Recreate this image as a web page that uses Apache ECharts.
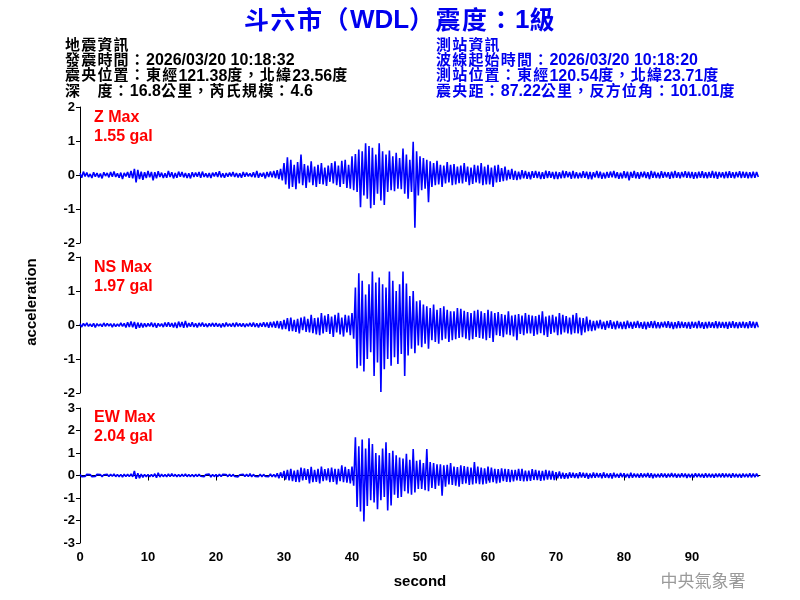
<!DOCTYPE html>
<html><head><meta charset="utf-8">
<script src="https://cdn.jsdelivr.net/npm/echarts@6/dist/echarts.min.js"></script>
<style>html,body{margin:0;padding:0;background:#fff}#c{width:800px;height:600px}</style>
</head><body><div id="c"></div>
<script>
// ---- data ----
const DT = 0.25; // sampling step in seconds
const titleText = '斗六市（WDL）震度：1級';
const leftInfo = ['地震資訊','發震時間：2026/03/20 10:18:32','震央位置：東經121.38度，北緯23.56度','深　度：16.8公里，芮氏規模：4.6'];
const rightInfo = ['測站資訊','波線起始時間：2026/03/20 10:18:20','測站位置：東經120.54度，北緯23.71度','震央距：87.22公里，反方位角：101.01度'];
const channelNames = ['Z Max','NS Max','EW Max'];
const channelPeaks = ['1.55 gal','1.97 gal','2.04 gal'];
const yRanges = [[-2,2],[-2,2],[-3,3]];
const xTicks = [0,10,20,30,40,50,60,70,80,90];

const zValues = [
0.05,-0.08,0.10,-0.04, 0.07,-0.06,0.03,-0.09, 0.08,-0.05,0.06,-0.07, 0.04,-0.10,0.08,-0.03, 0.06,-0.07,0.09,-0.05, 0.10,-0.06,0.05,-0.08, 0.07,-0.12,0.06,-0.04, 0.09,-0.08,0.12,-0.10, 0.18,-0.22,0.15,-0.12, 0.10,-0.14,0.08,-0.09,
0.12,-0.07,0.09,-0.16, 0.08,-0.10,0.11,-0.06, 0.07,-0.09,0.05,-0.08, 0.12,-0.06,0.08,-0.10, 0.06,-0.08,0.10,-0.05, 0.09,-0.07,0.06,-0.09, 0.05,-0.10,0.08,-0.06, 0.07,-0.05,0.09,-0.08, 0.10,-0.06,0.05,-0.07, 0.06,-0.09,0.07,-0.04,
0.08,-0.06,0.11,-0.07, 0.05,-0.08,0.06,-0.05, 0.07,-0.04,0.09,-0.06, 0.06,-0.07,0.05,-0.08, 0.09,-0.05,0.07,-0.04, 0.05,-0.06,0.08,-0.07, 0.12,-0.08,0.06,-0.05, 0.07,-0.10,0.09,-0.06, 0.10,-0.07,0.12,-0.09, 0.14,-0.12,0.18,-0.16,
0.35,-0.28,0.52,-0.40, 0.45,-0.35,0.30,-0.42, 0.38,-0.25,0.60,-0.30, 0.32,-0.38,0.28,-0.22, 0.40,-0.30,0.25,-0.35, 0.30,-0.26,0.35,-0.28, 0.22,-0.32,0.28,-0.20, 0.35,-0.25,0.40,-0.30, 0.28,-0.35,0.42,-0.26, 0.45,-0.38,0.30,-0.40,
0.55,-0.45,0.62,-0.50, 0.75,-0.95,0.70,-0.60, 0.93,-0.70,0.85,-0.98, 0.80,-0.88,0.60,-0.55, 0.93,-0.75,0.70,-0.88, 0.60,-0.50,0.72,-0.45, 0.55,-0.48,0.65,-0.40, 0.50,-0.42,0.78,-0.55, 0.60,-0.70,0.45,-0.50, 0.98,-1.55,0.70,-0.60,
0.55,-0.45,0.50,-0.40, 0.45,-0.80,0.40,-0.35, 0.35,-0.30,0.42,-0.28, 0.30,-0.35,0.28,-0.25, 0.38,-0.22,0.30,-0.30, 0.32,-0.28,0.25,-0.24, 0.28,-0.25,0.35,-0.20, 0.25,-0.30,0.22,-0.26, 0.30,-0.22,0.28,-0.25, 0.35,-0.30,0.25,-0.28,
0.30,-0.28,0.22,-0.35, 0.28,-0.22,0.30,-0.20, 0.20,-0.18,0.25,-0.16, 0.15,-0.12,0.18,-0.14, 0.12,-0.15,0.10,-0.13, 0.14,-0.10,0.12,-0.11, 0.09,-0.13,0.11,-0.08, 0.12,-0.09,0.10,-0.12, 0.08,-0.11,0.13,-0.09, 0.11,-0.08,0.09,-0.12,
0.10,-0.12,0.08,-0.10, 0.13,-0.09,0.11,-0.07, 0.09,-0.11,0.12,-0.10, 0.08,-0.10,0.07,-0.09, 0.11,-0.08,0.10,-0.12, 0.09,-0.13,0.08,-0.07, 0.12,-0.09,0.10,-0.11, 0.07,-0.10,0.09,-0.08, 0.10,-0.07,0.12,-0.09, 0.08,-0.11,0.07,-0.10,
0.11,-0.09,0.10,-0.16, 0.09,-0.08,0.12,-0.10, 0.08,-0.11,0.09,-0.07, 0.10,-0.09,0.08,-0.12, 0.12,-0.08,0.10,-0.09, 0.07,-0.10,0.11,-0.08, 0.09,-0.07,0.08,-0.11, 0.10,-0.09,0.12,-0.08, 0.08,-0.10,0.09,-0.07, 0.11,-0.08,0.10,-0.09,
0.09,-0.11,0.08,-0.10, 0.10,-0.08,0.11,-0.09, 0.08,-0.10,0.09,-0.08, 0.12,-0.09,0.10,-0.11, 0.09,-0.07,0.08,-0.10, 0.10,-0.09,0.11,-0.08, 0.08,-0.10,0.09,-0.07, 0.11,-0.09,0.10,-0.08, 0.09,-0.10,0.08,-0.09, 0.10,-0.08,0.09,-0.06
];

const nsValues = [
0.04,-0.06,0.05,-0.03, 0.06,-0.04,0.03,-0.05, 0.05,-0.07,0.04,-0.03, 0.03,-0.05,0.06,-0.04, 0.05,-0.03,0.04,-0.06, 0.04,-0.05,0.03,-0.04, 0.06,-0.04,0.05,-0.07, 0.08,-0.06,0.10,-0.07, 0.09,-0.11,0.07,-0.08, 0.06,-0.07,0.05,-0.06,
0.05,-0.04,0.07,-0.06, 0.06,-0.08,0.05,-0.04, 0.04,-0.06,0.07,-0.05, 0.08,-0.05,0.06,-0.07, 0.07,-0.09,0.10,-0.06, 0.09,-0.08,0.12,-0.07, 0.06,-0.05,0.08,-0.06, 0.05,-0.07,0.06,-0.04, 0.07,-0.05,0.04,-0.06, 0.05,-0.04,0.06,-0.05,
0.06,-0.05,0.04,-0.07, 0.05,-0.06,0.07,-0.04, 0.04,-0.05,0.06,-0.06, 0.07,-0.04,0.05,-0.05, 0.05,-0.06,0.04,-0.04, 0.06,-0.05,0.07,-0.06, 0.05,-0.07,0.06,-0.05, 0.08,-0.06,0.07,-0.08, 0.09,-0.07,0.10,-0.08, 0.12,-0.10,0.11,-0.13,
0.15,-0.12,0.20,-0.18, 0.22,-0.18,0.15,-0.20, 0.18,-0.25,0.22,-0.15, 0.25,-0.20,0.18,-0.22, 0.30,-0.24,0.20,-0.28, 0.22,-0.30,0.35,-0.25, 0.28,-0.20,0.32,-0.26, 0.25,-0.35,0.30,-0.22, 0.36,-0.28,0.22,-0.34, 0.30,-0.22,0.28,-0.30,
0.35,-0.40,1.10,-1.27, 1.52,-1.20,1.30,-1.37, 0.90,-1.00,1.20,-0.80, 1.57,-1.50,1.25,-1.10, 1.40,-1.97,1.20,-1.30, 1.10,-1.00,1.57,-1.20, 1.30,-0.95,1.00,-1.15, 1.20,-0.85,1.57,-1.50, 1.22,-0.90,0.85,-0.70, 1.00,-0.83,0.70,-0.60,
0.73,-0.65,0.60,-0.55, 0.55,-0.70,0.50,-0.45, 0.60,-0.50,0.45,-0.55, 0.50,-0.45,0.55,-0.40, 0.45,-0.50,0.40,-0.45, 0.40,-0.42,0.50,-0.38, 0.48,-0.36,0.42,-0.40, 0.38,-0.45,0.35,-0.42, 0.42,-0.35,0.45,-0.38, 0.40,-0.40,0.35,-0.45,
0.45,-0.38,0.40,-0.50, 0.35,-0.30,0.38,-0.32, 0.32,-0.36,0.30,-0.28, 0.40,-0.30,0.28,-0.34, 0.30,-0.45,0.32,-0.26, 0.28,-0.30,0.35,-0.25, 0.30,-0.25,0.28,-0.32, 0.26,-0.28,0.30,-0.24, 0.40,-0.30,0.25,-0.35, 0.28,-0.26,0.30,-0.22,
0.25,-0.30,0.35,-0.28, 0.30,-0.22,0.26,-0.25, 0.22,-0.28,0.30,-0.24, 0.35,-0.25,0.22,-0.30, 0.20,-0.22,0.25,-0.18, 0.15,-0.18,0.12,-0.16, 0.13,-0.10,0.15,-0.12, 0.10,-0.14,0.12,-0.09, 0.14,-0.11,0.10,-0.13, 0.12,-0.10,0.09,-0.12,
0.10,-0.12,0.13,-0.09, 0.09,-0.11,0.10,-0.08, 0.12,-0.09,0.08,-0.11, 0.10,-0.13,0.09,-0.08, 0.11,-0.09,0.12,-0.10, 0.08,-0.10,0.09,-0.07, 0.10,-0.08,0.11,-0.09, 0.09,-0.12,0.08,-0.10, 0.11,-0.09,0.10,-0.08, 0.08,-0.10,0.09,-0.11,
0.10,-0.08,0.09,-0.10, 0.12,-0.09,0.08,-0.11, 0.09,-0.10,0.10,-0.08, 0.08,-0.09,0.11,-0.10, 0.10,-0.08,0.09,-0.09, 0.09,-0.11,0.10,-0.08, 0.11,-0.09,0.08,-0.10, 0.09,-0.08,0.10,-0.09, 0.08,-0.10,0.11,-0.08, 0.10,-0.09,0.09,-0.07
];

const ewValues = [
0.04,-0.05,0.03,-0.04, 0.05,-0.03,0.04,-0.05, 0.03,-0.04,0.05,-0.03, 0.04,-0.06,0.03,-0.04, 0.05,-0.04,0.06,-0.03, 0.07,-0.05,0.04,-0.06, 0.05,-0.07,0.06,-0.04, 0.06,-0.05,0.07,-0.06, 0.20,-0.15,0.10,-0.12, 0.06,-0.08,0.05,-0.06,
0.05,-0.06,0.04,-0.05, 0.08,-0.10,0.12,-0.07, 0.06,-0.05,0.04,-0.06, 0.07,-0.05,0.08,-0.04, 0.05,-0.06,0.04,-0.05, 0.06,-0.04,0.07,-0.05, 0.04,-0.05,0.05,-0.06, 0.05,-0.04,0.06,-0.03, 0.03,-0.05,0.04,-0.04, 0.06,-0.07,0.05,-0.05,
0.04,-0.05,0.06,-0.04, 0.05,-0.03,0.04,-0.05, 0.06,-0.05,0.05,-0.04, 0.04,-0.06,0.03,-0.05, 0.05,-0.04,0.06,-0.05, 0.08,-0.06,0.05,-0.04, 0.04,-0.05,0.06,-0.06, 0.05,-0.04,0.04,-0.05, 0.07,-0.06,0.05,-0.07, 0.10,-0.12,0.14,-0.10,
0.20,-0.18,0.25,-0.22, 0.30,-0.25,0.22,-0.28, 0.25,-0.30,0.35,-0.22, 0.32,-0.20,0.28,-0.35, 0.38,-0.30,0.25,-0.28, 0.30,-0.35,0.40,-0.25, 0.28,-0.22,0.32,-0.30, 0.35,-0.28,0.30,-0.40, 0.30,-0.25,0.45,-0.30, 0.38,-0.32,0.28,-0.35,
0.40,-0.45,1.70,-1.40, 1.30,-1.60,1.60,-2.04, 1.20,-1.35,1.65,-1.10, 1.40,-1.20,1.00,-1.50, 0.90,-1.10,1.20,-0.95, 1.48,-1.55,1.00,-1.33, 1.10,-0.85,0.90,-1.00, 0.80,-0.95,0.75,-0.70, 0.96,-0.80,0.70,-0.85, 1.18,-0.75,0.65,-0.60,
0.70,-0.60,0.55,-0.65, 1.18,-0.70,0.60,-0.55, 0.55,-0.60,0.50,-0.45, 0.50,-0.90,0.45,-0.50, 0.48,-0.40,0.55,-0.42, 0.40,-0.45,0.38,-0.50, 0.45,-0.38,0.42,-0.35, 0.38,-0.42,0.35,-0.40, 0.60,-0.35,0.40,-0.38, 0.35,-0.40,0.32,-0.36,
0.40,-0.32,0.35,-0.30, 0.30,-0.35,0.28,-0.32, 0.32,-0.25,0.30,-0.28, 0.28,-0.30,0.25,-0.26, 0.25,-0.22,0.30,-0.24, 0.30,-0.26,0.22,-0.25, 0.22,-0.24,0.28,-0.20, 0.25,-0.20,0.22,-0.24, 0.20,-0.22,0.25,-0.18, 0.22,-0.18,0.20,-0.20,
0.15,-0.12,0.18,-0.14, 0.12,-0.15,0.10,-0.13, 0.14,-0.10,0.12,-0.11, 0.10,-0.12,0.15,-0.09, 0.12,-0.10,0.11,-0.14, 0.09,-0.11,0.13,-0.10, 0.11,-0.09,0.10,-0.12, 0.14,-0.10,0.09,-0.11, 0.10,-0.13,0.12,-0.09, 0.08,-0.10,0.11,-0.08,
0.10,-0.09,0.08,-0.11, 0.12,-0.10,0.09,-0.08, 0.08,-0.10,0.10,-0.09, 0.09,-0.07,0.11,-0.10, 0.10,-0.12,0.08,-0.09, 0.07,-0.09,0.10,-0.08, 0.09,-0.10,0.08,-0.07, 0.11,-0.08,0.09,-0.10, 0.08,-0.09,0.10,-0.08, 0.09,-0.11,0.07,-0.09,
0.08,-0.09,0.10,-0.07, 0.09,-0.08,0.07,-0.10, 0.10,-0.09,0.08,-0.08, 0.07,-0.10,0.09,-0.07, 0.08,-0.08,0.10,-0.09, 0.09,-0.07,0.08,-0.10, 0.10,-0.08,0.07,-0.09, 0.08,-0.10,0.09,-0.07, 0.07,-0.08,0.10,-0.09, 0.09,-0.07,0.08,-0.06
];
// ---- chart ----
const traces = [zValues, nsValues, ewValues];
const LAT = '"Liberation Sans", Arial, sans-serif';
const CJK = '"Noto Sans CJK TC", sans-serif';
// wrap latin runs and each CJK character in rich-text tokens (for spacing / alignment)
function richify(s){
  return s.replace(/([\x00-\x7F]+)/g, '{l|$1}').replace(/([^\x00-\x7F])/g, '{c|$1}');
}
function richStyles(color, latSize, cjkSize, pad, lh, latDrop){
  return {
    l:{fontFamily:LAT, fontWeight:'bold', fontSize:latSize, fill:color, verticalAlign:'middle', lineHeight:lh, padding:[latDrop,0,0,0]},
    c:{fontFamily:CJK, fontWeight:'bold', fontSize:cjkSize, fill:color, verticalAlign:'middle', lineHeight:lh, padding:[0,pad,0,0]}
  };
}

const grids = [
  {left:80, right:40, top:107, height:136},
  {left:80, right:40, top:257, height:136},
  {left:80, right:40, top:408, height:135}
];
const xAxes = grids.map((g,i)=>({
  type:'value', gridIndex:i, min:0, max:100, interval:10, show: i===2,
  axisLine:{show:true, lineStyle:{color:'#000', width:1}},
  axisTick:{show:true, length:5, lineStyle:{color:'#000'}},
  axisLabel:{show:true, showMaxLabel:false, color:'#000', fontFamily:LAT, fontWeight:'bold', fontSize:13, margin:8,
    formatter:v=> xTicks.indexOf(v)>=0 ? String(v) : ''},
  splitLine:{show:false},
  name: i===2 ? 'second' : '', nameLocation:'middle', nameGap:31,
  nameTextStyle:{color:'#000', fontFamily:LAT, fontWeight:'bold', fontSize:15}
}));
const yAxes = grids.map((g,i)=>({
  type:'value', gridIndex:i, min:yRanges[i][0], max:yRanges[i][1], interval:1,
  axisLine:{show:true, lineStyle:{color:'#000', width:1}},
  axisTick:{show:true, length:4, lineStyle:{color:'#000'}},
  axisLabel:{color:'#000', fontFamily:LAT, fontWeight:'bold', fontSize:13, margin:5},
  splitLine:{show:false}
}));
const series = traces.map((vals,i)=>({
  type:'line', xAxisIndex:i, yAxisIndex:i, showSymbol:false, symbol:'none',
  lineStyle:{color:'#0000ff', width:1.6}, itemStyle:{color:'#0000ff'},
  data: vals.map((v,k)=>[k*DT, v]), animation:false, silent:true
}));

const graphics = [];
graphics.push({type:'text', x:400, y:19, style:{text:richify(titleText), align:'center', verticalAlign:'middle',
  fill:'#0000ee', fontFamily:LAT, fontWeight:'bold', fontSize:26,
  rich:richStyles('#0000ee', 26, 25, 1.5, 30, 3)}});
const infoY = [44, 59.3, 74.6, 90];
leftInfo.forEach((t,i)=>graphics.push({type:'text', x:65, y:infoY[i], style:{text:richify(t), align:'left', verticalAlign:'middle',
  fill:'#000', fontFamily:LAT, fontWeight:'bold', fontSize:16, rich:richStyles('#000', 16, 15, 1.2, 16, 3)}}));
rightInfo.forEach((t,i)=>graphics.push({type:'text', x:436, y:infoY[i], style:{text:richify(t), align:'left', verticalAlign:'middle',
  fill:'#0000ee', fontFamily:LAT, fontWeight:'bold', fontSize:16, rich:richStyles('#0000ee', 16, 15, 1.2, 16, 3)}}));
const labY = [[117.5,136.7],[268,287],[417.5,436.7]];
channelNames.forEach((n,i)=>{
  graphics.push({type:'text', x:94, y:labY[i][0], style:{text:n, verticalAlign:'middle', fill:'#ff0000', fontFamily:LAT, fontWeight:'bold', fontSize:16}});
  graphics.push({type:'text', x:94, y:labY[i][1], style:{text:channelPeaks[i], verticalAlign:'middle', fill:'#ff0000', fontFamily:LAT, fontWeight:'bold', fontSize:16}});
});
graphics.push({type:'text', x:32, y:302, rotation:Math.PI/2, style:{text:'acceleration', align:'center', verticalAlign:'middle',
  fill:'#000', fontFamily:LAT, fontWeight:'bold', fontSize:15}});
graphics.push({type:'text', x:703, y:581, style:{text:'中央氣象署', align:'center', verticalAlign:'middle',
  fill:'#9a9a9a', fontFamily:CJK, fontWeight:'normal', fontSize:17}});

const chart = echarts.init(document.getElementById('c'), null, {renderer:'canvas'});
chart.setOption({
  animation:false, backgroundColor:'#fff',
  grid:grids, xAxis:xAxes, yAxis:yAxes, series:series, graphic:graphics
});
</script></body></html>
